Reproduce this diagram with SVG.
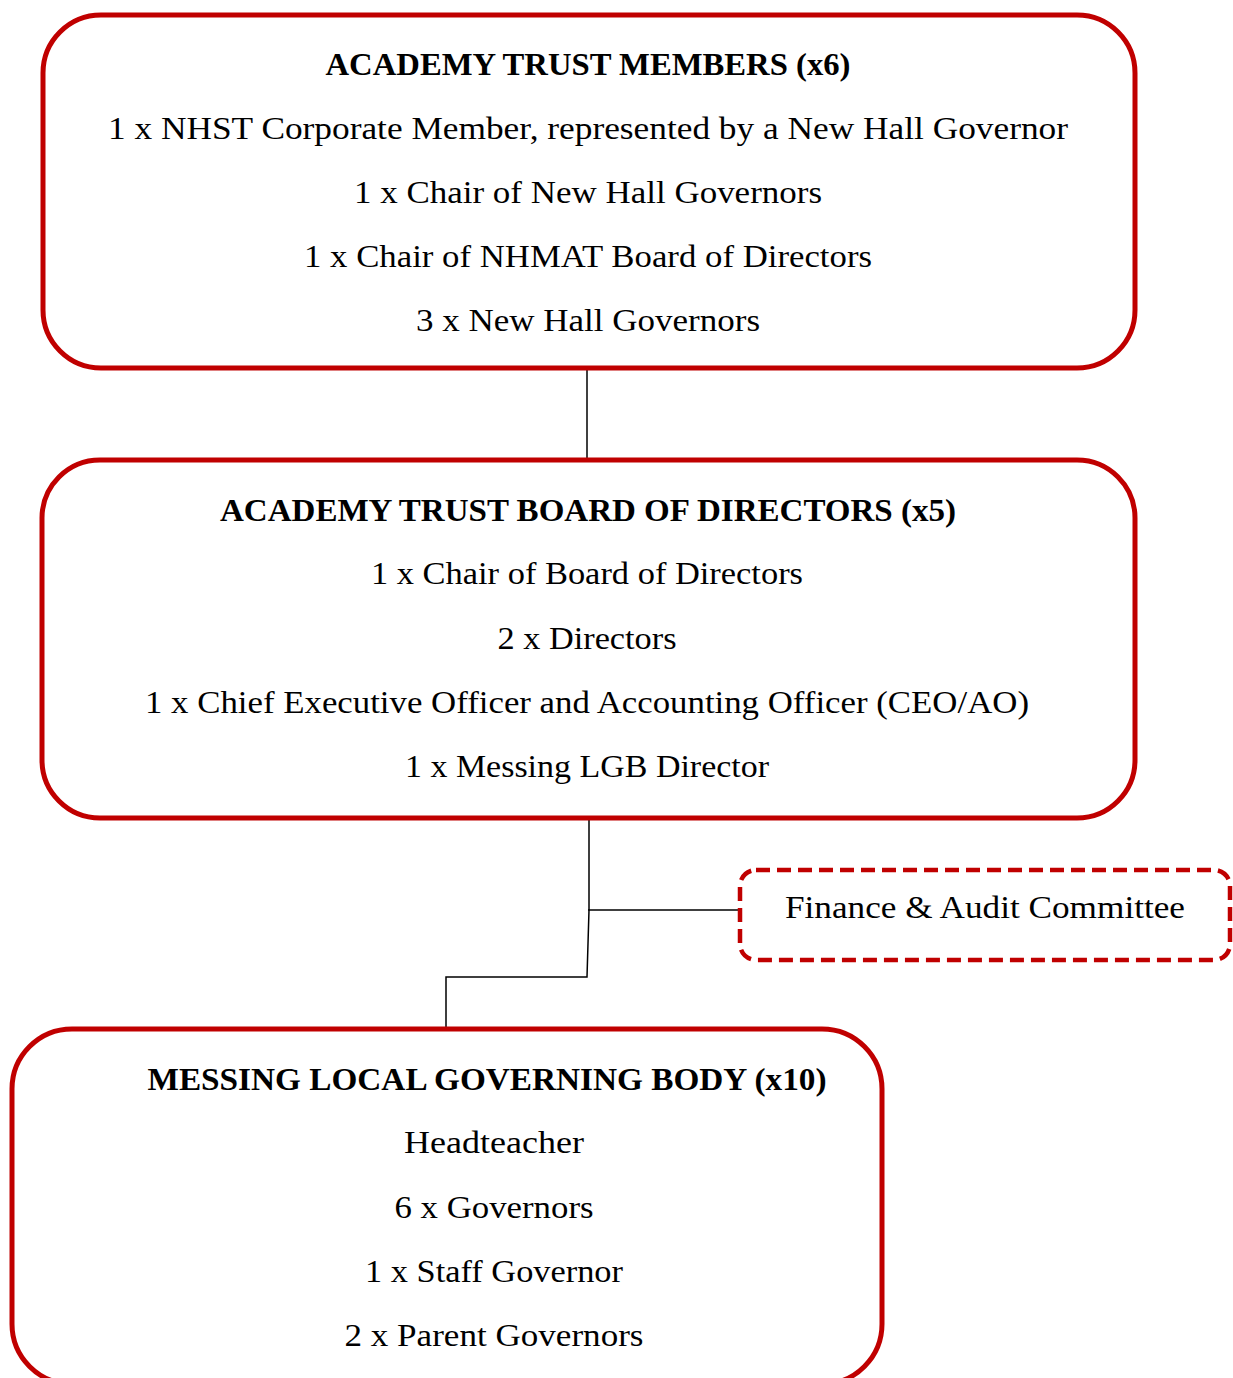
<svg xmlns="http://www.w3.org/2000/svg" width="1233" height="1378" viewBox="0 0 1233 1378">
<style>
.box{fill:#fff;stroke:#C00000;stroke-width:5}
.dash{fill:#fff;stroke:#C00000;stroke-width:4.5;stroke-dasharray:14 7}
.con{fill:none;stroke:#000;stroke-width:1.5}
text{font-family:"Liberation Serif","DejaVu Serif",serif;font-size:31px;fill:#000;text-anchor:middle}
.h{font-weight:bold}
</style>
<rect width="1233" height="1378" fill="#fff"/>
<g id="connectors">
<path class="con" d="M587,368 V460"/>
<path class="con" d="M589,818 V910 L587,977 H446 V1029"/>
<path class="con" d="M588,910 H740"/>
</g>
<g id="members">
<rect class="box" x="43" y="15" width="1092" height="353" rx="58"/>
<text class="h" x="588" y="75" textLength="525" lengthAdjust="spacingAndGlyphs">ACADEMY TRUST MEMBERS (x6)</text>
<text x="588" y="139" textLength="960" lengthAdjust="spacingAndGlyphs">1 x NHST Corporate Member, represented by a New Hall Governor</text>
<text x="588" y="203" textLength="468" lengthAdjust="spacingAndGlyphs">1 x Chair of New Hall Governors</text>
<text x="588" y="267" textLength="568" lengthAdjust="spacingAndGlyphs">1 x Chair of NHMAT Board of Directors</text>
<text x="588" y="331" textLength="344" lengthAdjust="spacingAndGlyphs">3 x New Hall Governors</text>
</g>
<g id="board">
<rect class="box" x="42" y="460" width="1093" height="358" rx="58"/>
<text class="h" x="588" y="521" textLength="736" lengthAdjust="spacingAndGlyphs">ACADEMY TRUST BOARD OF DIRECTORS (x5)</text>
<text x="587" y="584" textLength="432" lengthAdjust="spacingAndGlyphs">1 x Chair of Board of Directors</text>
<text x="587" y="649" textLength="179" lengthAdjust="spacingAndGlyphs">2 x Directors</text>
<text x="587" y="713" textLength="884" lengthAdjust="spacingAndGlyphs">1 x Chief Executive Officer and Accounting Officer (CEO/AO)</text>
<text x="587" y="777" textLength="364" lengthAdjust="spacingAndGlyphs">1 x Messing LGB Director</text>
</g>
<g id="committee">
<rect class="dash" x="740" y="870" width="490" height="90" rx="16"/>
<text x="985" y="918" textLength="400" lengthAdjust="spacingAndGlyphs">Finance &amp; Audit Committee</text>
</g>
<g id="lgb">
<rect class="box" x="12" y="1029" width="870" height="355" rx="60"/>
<text class="h" x="487" y="1090" textLength="679" lengthAdjust="spacingAndGlyphs">MESSING LOCAL GOVERNING BODY (x10)</text>
<text x="494" y="1153" textLength="180" lengthAdjust="spacingAndGlyphs">Headteacher</text>
<text x="494" y="1218" textLength="199" lengthAdjust="spacingAndGlyphs">6 x Governors</text>
<text x="494" y="1282" textLength="258" lengthAdjust="spacingAndGlyphs">1 x Staff Governor</text>
<text x="494" y="1346" textLength="299" lengthAdjust="spacingAndGlyphs">2 x Parent Governors</text>
</g>
</svg>
